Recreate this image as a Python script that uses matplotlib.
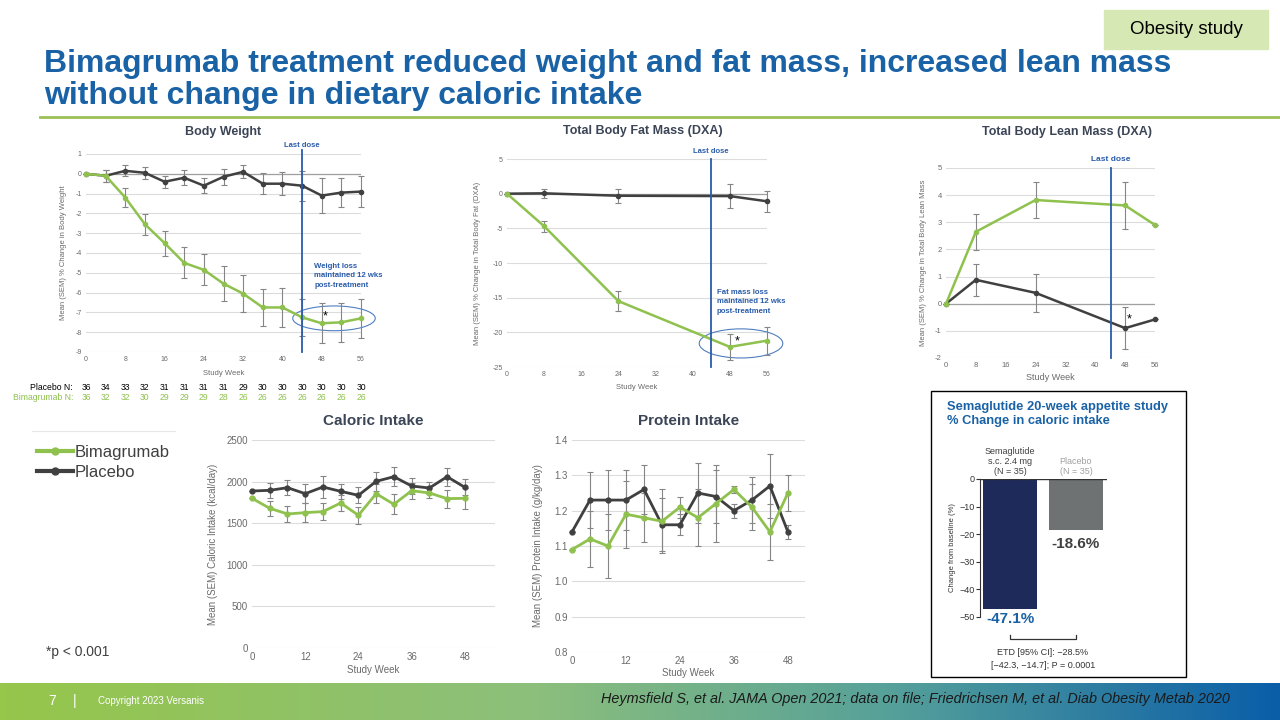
import numpy as np
import matplotlib.pyplot as plt
from matplotlib.lines import Line2D
from matplotlib.patches import Rectangle, Ellipse
from matplotlib.colors import LinearSegmentedColormap

plt.rcParams['font.family'] = ['Liberation Sans', 'DejaVu Sans']
plt.rcParams['axes.unicode_minus'] = False

GREEN = '#8fc14e'
DARK = '#404040'
ERR = '#858585'
GRID = '#dcdcdc'
TICK = '#6a6a6a'
BLUE = '#2a5caa'
TITLE_GRAY = '#3b4556'

# ---- data ----
bw_weeks = [0, 4, 8, 12, 16, 20, 24, 28, 32, 36, 40, 44, 48, 52, 56]
bw_placebo = [0, -0.1, 0.15, 0.05, -0.4, -0.2, -0.6, -0.15, 0.1, -0.5, -0.5, -0.6, -1.1, -0.95, -0.9]
bw_placebo_err = [0, 0.3, 0.28, 0.3, 0.3, 0.38, 0.38, 0.4, 0.32, 0.54, 0.57, 0.75, 0.87, 0.75, 0.78]
bw_bima = [0, -0.1, -1.2, -2.55, -3.5, -4.5, -4.85, -5.55, -6.05, -6.75, -6.75, -7.25, -7.55, -7.5, -7.3]
bw_bima_err = [0, 0.3, 0.5, 0.52, 0.63, 0.78, 0.79, 0.88, 0.95, 0.94, 0.98, 0.95, 1.0, 1.0, 1.0]
n_placebo = [36, 34, 33, 32, 31, 31, 31, 31, 29, 30, 30, 30, 30, 30, 30]
n_bima = [36, 32, 32, 30, 29, 29, 29, 28, 26, 26, 26, 26, 26, 26, 26]

dxa_weeks = [0, 8, 24, 48, 56]
fat_placebo = [0, 0.05, -0.3, -0.35, -1.1]
fat_placebo_err = [0, 0.65, 1.0, 1.7, 1.5]
fat_bima = [0, -4.7, -15.5, -22.1, -21.2]
fat_bima_err = [0, 0.8, 1.45, 1.9, 2.0]

lean_placebo = [0, 0.88, 0.4, -0.9, -0.58]
lean_placebo_err = [0, 0.58, 0.7, 0.77, 0]
lean_bima = [0, 2.65, 3.82, 3.62, 2.9]
lean_bima_err = [0, 0.67, 0.67, 0.87, 0]

intake_weeks = [0, 4, 8, 12, 16, 20, 24, 28, 32, 36, 40, 44, 48]
cal_placebo = [1887, 1895, 1927, 1855, 1935, 1883, 1835, 2003, 2059, 1947, 1923, 2059, 1931]
cal_placebo_err = [0, 92, 90, 114, 128, 92, 96, 112, 112, 92, 76, 106, 96]
cal_bima = [1799, 1679, 1611, 1627, 1639, 1743, 1595, 1855, 1727, 1891, 1863, 1795, 1799]
cal_bima_err = [0, 92, 100, 110, 100, 100, 104, 116, 120, 95, 60, 110, 124]

prot_placebo = [1.14, 1.23, 1.23, 1.23, 1.26, 1.16, 1.16, 1.25, 1.24, 1.20, 1.23, 1.27, 1.14]
prot_placebo_err = [0, 0.08, 0.085, 0.085, 0.07, 0.075, 0.03, 0.085, 0.075, 0.02, 0.065, 0.09, 0.02]
prot_bima = [1.09, 1.12, 1.10, 1.19, 1.18, 1.17, 1.21, 1.18, 1.22, 1.26, 1.21, 1.14, 1.25]
prot_bima_err = [0, 0.08, 0.09, 0.095, 0.07, 0.09, 0.03, 0.08, 0.11, 0.01, 0.065, 0.08, 0.05]

sema_groups = ['Semaglutide\ns.c. 2.4 mg\n(N = 35)', 'Placebo\n(N = 35)']
sema_values = [-47.1, -18.6]

fig = plt.figure(figsize=(12.8, 7.2), dpi=100)


def px_axes(l, t, r, b):
    return fig.add_axes([l / 1280, 1 - b / 720, (r - l) / 1280, (b - t) / 720])


def style(ax, fs):
    for s in ax.spines.values():
        s.set_visible(False)
    ax.grid(axis='y', color=GRID, lw=0.8)
    ax.set_axisbelow(True)
    ax.tick_params(length=0, labelsize=fs, colors=TICK, pad=3)


def series(ax, x, y, e, color, lw=1.8, ms=3):
    ax.errorbar(x, y, yerr=e, color=color, ecolor=ERR, elinewidth=0.8, capsize=2,
                capthick=0.8, marker='o', ms=ms, lw=lw, clip_on=False, zorder=3)


# ---- header ----
fig.patches.append(Rectangle((1104 / 1280, 1 - 49 / 720), 164 / 1280, 39 / 720,
                             transform=fig.transFigure, color='#d6e8b4', zorder=0))
fig.text(1186 / 1280, 1 - 30 / 720, 'Obesity study', fontsize=13.5, ha='center', va='center', color='black')
fig.text(44 / 1280, 1 - 80 / 720,
         'Bimagrumab treatment reduced weight and fat mass, increased lean mass\nwithout change in dietary caloric intake',
         fontsize=23, fontweight='bold', color='#1a62a6', ha='left', va='center', linespacing=1.1)
fig.add_artist(Line2D([40 / 1280, 1], [1 - 117 / 720, 1 - 117 / 720], color='#9cc056', lw=2))

# ---- body weight ----
ax = px_axes(86, 154, 361, 352)
style(ax, 5)
ax.set_xlim(0, 56)
ax.set_ylim(-9, 1)
ax.set_yticks(range(-9, 2))
ax.set_xticks(range(0, 57, 8))
ax.axhline(0, color='#a0a0a0', lw=0.9, zorder=1)
series(ax, bw_weeks, bw_placebo, bw_placebo_err, DARK)
series(ax, bw_weeks, bw_bima, bw_bima_err, GREEN)
ax.axvline(44, ymin=0, ymax=1.02, color=BLUE, lw=1.3, clip_on=False, zorder=4)
ax.text(44, 1.25, 'Last dose', color=BLUE, fontsize=5.5, fontweight='bold', ha='center', va='bottom')
ax.text(46.5, -5.15, 'Weight loss\nmaintained 12 wks\npost-treatment', color=BLUE, fontsize=5.6,
        fontweight='bold', ha='left', va='center', linespacing=1.55)
ax.add_patch(Ellipse((50.5, -7.3), 16.8, 1.25, fill=False, ec='#4f7fc0', lw=0.8, clip_on=False))
ax.text(48.8, -7.2, '*', fontsize=9, ha='center', va='center', color='black')
ax.set_xlabel('Study Week', fontsize=5.5, color=TICK, labelpad=5)
ax.set_ylabel('Mean (SEM) % Change in Body Weight', fontsize=5.5, color=TICK, labelpad=6)
ax.set_title('Body Weight', fontsize=9, fontweight='bold', color=TITLE_GRAY, pad=14)
fig.text(73 / 1280, 1 - 387 / 720, 'Placebo N:', fontsize=6.2, ha='right', va='center', color='black')
fig.text(73 / 1280, 1 - 397 / 720, 'Bimagrumab N:', fontsize=6.2, ha='right', va='center', color=GREEN)
for wk, npl, nbi in zip(bw_weeks, n_placebo, n_bima):
    xf = fig.transFigure.inverted().transform(ax.transData.transform((wk, 0)))[0]
    fig.text(xf, 1 - 387 / 720, str(npl), fontsize=6.2, ha='center', va='center', color='black')
    fig.text(xf, 1 - 397 / 720, str(nbi), fontsize=6.2, ha='center', va='center', color=GREEN)

# ---- fat mass ----
ax = px_axes(507, 159, 767, 367)
style(ax, 5)
ax.set_xlim(0, 56)
ax.set_ylim(-25, 5)
ax.set_yticks(range(-25, 6, 5))
ax.set_xticks(range(0, 57, 8))
ax.axhline(0, color='#a0a0a0', lw=0.9, zorder=1)
series(ax, dxa_weeks, fat_placebo, fat_placebo_err, DARK)
series(ax, dxa_weeks, fat_bima, fat_bima_err, GREEN)
ax.axvline(44, ymin=0, ymax=1.0, color=BLUE, lw=1.3, clip_on=False, zorder=4)
ax.text(44, 5.6, 'Last dose', color=BLUE, fontsize=5.5, fontweight='bold', ha='center', va='bottom')
ax.text(45.2, -15.6, 'Fat mass loss\nmaintained 12 wks\npost-treatment', color=BLUE, fontsize=5.6,
        fontweight='bold', ha='left', va='center', linespacing=1.55)
ax.add_patch(Ellipse((50.4, -21.6), 18, 4.2, fill=False, ec='#4f7fc0', lw=0.8, clip_on=False))
ax.text(49.5, -21.3, '*', fontsize=9, ha='center', va='center', color='black')
ax.set_xlabel('Study Week', fontsize=5.5, color=TICK, labelpad=4)
ax.set_ylabel('Mean (SEM) % Change in Total Body Fat (DXA)', fontsize=5.5, color=TICK, labelpad=8)
fig.text(643 / 1280, 1 - 131 / 720, 'Total Body Fat Mass (DXA)', fontsize=9, fontweight='bold',
         color=TITLE_GRAY, ha='center', va='center')

# ---- lean mass ----
ax = px_axes(946, 168, 1155, 358)
style(ax, 5.5)
ax.set_xlim(0, 56)
ax.set_ylim(-2, 5)
ax.set_yticks(range(-2, 6))
ax.set_xticks([0, 8, 16, 24, 32, 40, 48, 56])
ax.axhline(0, color='#a0a0a0', lw=0.9, zorder=1)
series(ax, dxa_weeks, lean_placebo, lean_placebo_err, DARK)
series(ax, dxa_weeks, lean_bima, lean_bima_err, GREEN)
ax.axvline(44.2, ymin=0, ymax=1.0, color=BLUE, lw=1.3, clip_on=False, zorder=4)
ax.text(44.2, 5.2, 'Last dose', color=BLUE, fontsize=6, fontweight='bold', ha='center', va='bottom')
ax.text(49.2, -0.58, '*', fontsize=9, ha='center', va='center', color='black')
ax.set_xlabel('Study Week', fontsize=6.5, color=TICK, labelpad=3)
ax.set_ylabel('Mean (SEM) % Change in Total Body Lean Mass', fontsize=5.5, color=TICK, labelpad=6)
fig.text(1067 / 1280, 1 - 132 / 720, 'Total Body Lean Mass (DXA)', fontsize=9, fontweight='bold',
         color=TITLE_GRAY, ha='center', va='center')

# ---- legend + footnote ----
fig.add_artist(Line2D([32 / 1280, 175 / 1280], [1 - 431 / 720, 1 - 431 / 720], color='#e6e6e6', lw=0.8))
handles = [Line2D([0], [0], color=GREEN, lw=3, marker='o', ms=5),
           Line2D([0], [0], color=DARK, lw=3, marker='o', ms=5)]
fig.legend(handles, ['Bimagrumab', 'Placebo'], loc='upper left', frameon=False,
           bbox_to_anchor=(30 / 1280, 1 - 438 / 720), fontsize=12, handlelength=2.2,
           handletextpad=0.05, labelspacing=0.3, labelcolor='#404040', borderaxespad=0)
fig.text(46 / 1280, 1 - 652 / 720, '*p < 0.001', fontsize=10, color='#404040', ha='left', va='center')

# ---- caloric intake ----
ax = px_axes(252, 440, 495, 648)
style(ax, 7)
ax.set_xlim(0, 54.8)
ax.set_ylim(0, 2500)
ax.set_yticks(range(0, 2501, 500))
ax.set_xticks([0, 12, 24, 36, 48])
series(ax, intake_weeks, cal_placebo, cal_placebo_err, DARK, lw=2, ms=3.5)
series(ax, intake_weeks, cal_bima, cal_bima_err, GREEN, lw=2, ms=3.5)
ax.set_xlabel('Study Week', fontsize=7, color=TICK, labelpad=2)
ax.set_ylabel('Mean (SEM) Caloric Intake (kcal/day)', fontsize=7, color=TICK, labelpad=6)
ax.set_title('Caloric Intake', fontsize=11, fontweight='bold', color=TITLE_GRAY, pad=11)

# ---- protein intake ----
ax = px_axes(572, 440, 805, 652)
style(ax, 7)
ax.set_xlim(0, 51.8)
ax.set_ylim(0.8, 1.4)
ax.set_yticks(np.arange(0.8, 1.41, 0.1))
ax.set_yticklabels(['0.8', '0.9', '1.0', '1.1', '1.2', '1.3', '1.4'])
ax.set_xticks([0, 12, 24, 36, 48])
series(ax, intake_weeks, prot_placebo, prot_placebo_err, DARK, lw=2, ms=3.5)
series(ax, intake_weeks, prot_bima, prot_bima_err, GREEN, lw=2, ms=3.5)
ax.set_xlabel('Study Week', fontsize=7, color=TICK, labelpad=1)
ax.set_ylabel('Mean (SEM) Protein Intake (g/kg/day)', fontsize=7, color=TICK, labelpad=8)
ax.set_title('Protein Intake', fontsize=11, fontweight='bold', color=TITLE_GRAY, pad=11)

# ---- semaglutide box ----
fig.patches.append(Rectangle((931 / 1280, 1 - 677 / 720), 255 / 1280, 286 / 720,
                             transform=fig.transFigure, fill=False, ec='black', lw=1))
fig.text(947 / 1280, 1 - 414 / 720, 'Semaglutide 20-week appetite study\n% Change in caloric intake',
         fontsize=9.3, fontweight='bold', color='#1a62a6', ha='left', va='center', linespacing=1.2)
ax = px_axes(980, 479, 1107, 617)
ax.bar([0, 1], sema_values, width=0.82, color=['#1e2a5a', '#6e7272'], zorder=2)
ax.set_xlim(-0.455, 1.47)
ax.set_ylim(-50, 0)
for s in ['top', 'right', 'bottom']:
    ax.spines[s].set_visible(False)
ax.spines['left'].set_color('#333333')
ax.axhline(0, color='#333333', lw=1, zorder=3)
ax.set_xticks([])
ax.set_yticks(range(-50, 1, 10))
ax.set_yticklabels(['\u221250', '\u221240', '\u221230', '\u221220', '\u221210', '0'])
ax.tick_params(axis='y', labelsize=6.5, length=3, colors='#333333', pad=1)
ax.set_ylabel('Change from baseline (%)', fontsize=5.5, color='#333333', labelpad=2)
ax.text(0, 1.2, sema_groups[0], fontsize=6.5, color='#404040', ha='center', va='bottom', linespacing=1.1)
ax.text(1, 1.2, sema_groups[1], fontsize=6.5, color='#a0a0a0', ha='center', va='bottom', linespacing=1.1)
ax.text(0, sema_values[0] - 1.2, '%.1f%%' % sema_values[0], fontsize=11, fontweight='bold',
        color='#1a62a6', ha='center', va='top')
ax.text(1, sema_values[1] - 2.5, '%.1f%%' % sema_values[1], fontsize=11, fontweight='bold',
        color='#404040', ha='center', va='top')
fig.add_artist(Line2D([1010 / 1280, 1010 / 1280, 1076 / 1280, 1076 / 1280],
                      [1 - 635 / 720, 1 - 639 / 720, 1 - 639 / 720, 1 - 635 / 720], color='#333333', lw=0.9))
fig.text(1043 / 1280, 1 - 659 / 720, 'ETD [95% CI]: \u221228.5%\n[\u221242.3, \u221214.7]; P = 0.0001',
         fontsize=6.5, color='#333333', ha='center', va='center', linespacing=1.45)

# ---- footer ----
fax = fig.add_axes([0, 0, 1, 37 / 720])
cmap = LinearSegmentedColormap.from_list('foot', [(0, '#96c64a'), (0.42, '#8cbf7c'),
                                                  (0.7, '#55a09a'), (1, '#0a5ea8')])
fax.imshow(np.linspace(0, 1, 256)[None, :], aspect='auto', cmap=cmap, extent=(0, 1, 0, 1))
fax.set_axis_off()
fig.text(52 / 1280, 1 - 701 / 720, '7', fontsize=10, color='white', ha='center', va='center')
fig.text(75 / 1280, 1 - 701 / 720, '|', fontsize=10, color='white', ha='center', va='center')
fig.text(98 / 1280, 1 - 701 / 720, 'Copyright 2023 Versanis', fontsize=7, color='white', ha='left', va='center')
fig.text(1230 / 1280, 1 - 699 / 720,
         'Heymsfield S, et al. JAMA Open 2021; data on file; Friedrichsen M, et al. Diab Obesity Metab 2020',
         fontsize=10.4, style='italic', color='#1a1a1a', ha='right', va='center')

fig.savefig('out.png', dpi=100)
